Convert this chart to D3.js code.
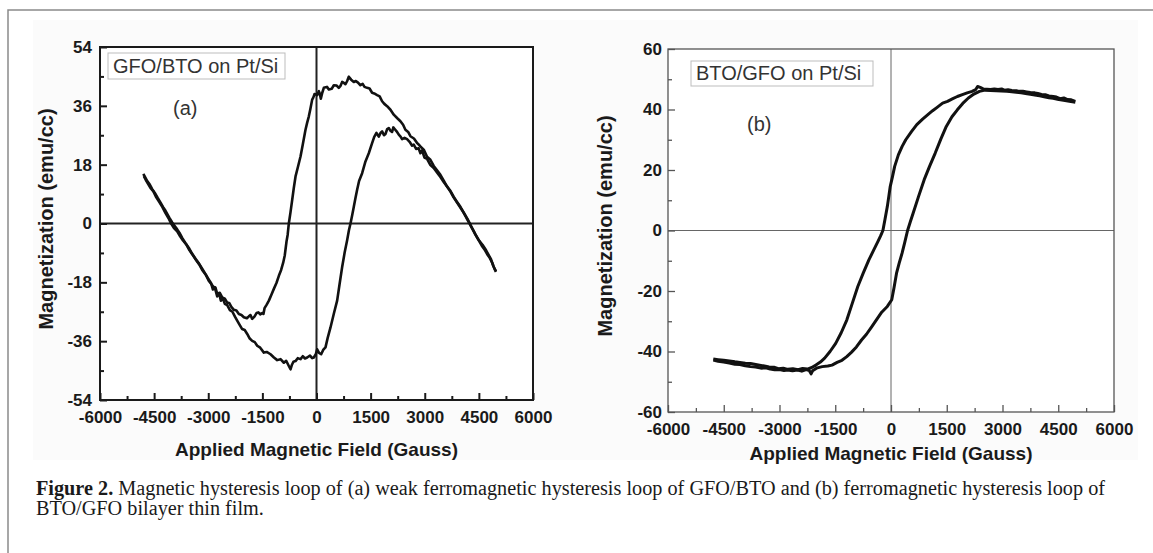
<!DOCTYPE html>
<html>
<head>
<meta charset="utf-8">
<script src="https://cdn.jsdelivr.net/npm/d3@7"></script>
<style>
  body { margin: 0; background: #fff; }
  svg { display: block; }
  .tick text { font-family: "Liberation Sans", Arial, sans-serif; font-weight: bold; font-size: 17px; fill: #1a1a1a; }
</style>
</head>
<body>
<svg id="fig" width="1153" height="553"></svg>
<script>
// ---- data ----
// panel (a) GFO/BTO: branch 1 = field sweeping down, branch 2 = field sweeping up
const aField1 = [4974,4900,4830,4769,4700,4600,4495,4400,4300,4264,4180,4080,3988,3895,3800,3711,3618,3530,3434,3340,3249,3157,3064,2972,2900,2830,2788,2700,2603,2540,2464,2400,2326,2240,2141,2050,1957,1880,1818,1750,1680,1600,1541,1470,1403,1330,1280,1218,1150,1090,1034,960,895,850,803,760,711,660,618,560,480,420,342,290,203,160,120,90,65,20,-55,-90,-120,-170,-212,-260,-305,-380,-443,-510,-581,-630,-674,-720,-767,-800,-831,-880,-923,-980,-1043,-1110,-1182,-1250,-1320,-1380,-1440,-1470,-1505,-1560,-1610,-1662,-1720,-1782,-1830,-1874,-1930,-2013,-2080,-2152,-2220,-2290,-2360,-2420,-2475,-2540,-2614,-2680,-2752,-2800,-2845,-2910,-2983,-3060,-3168,-3260,-3353,-3450,-3537,-3630,-3722,-3800,-3861,-3940,-3999,-4080,-4184,-4250,-4322,-4400,-4461,-4553,-4620,-4692,-4750,-4800];
const aMag1 = [-14.6,-13.0,-10.8,-9.6,-8.2,-6.5,-5.1,-3.3,-1.2,-0.3,1.5,3.3,5.1,6.6,8.2,10.0,11.3,13.0,14.9,16.3,17.6,19.5,20.4,22.6,23.3,24.2,24.6,26.0,26.7,28.0,28.7,30.2,31.3,32.2,33.3,34.8,35.9,36.6,37.4,38.9,39.3,39.8,40.0,41.3,41.5,41.8,42.7,42.3,43.1,43.6,43.3,44.0,44.9,43.6,42.6,43.0,43.3,42.0,41.5,42.2,42.3,41.2,41.0,41.8,41.5,40.0,38.2,39.8,40.5,39.3,39.6,38.5,37.9,35.0,32.8,30.8,28.7,24.2,20.5,17.5,14.4,10.8,7.2,3.5,0,-3.5,-5.5,-9.8,-12.0,-14.2,-16.0,-18.2,-20.0,-21.8,-23.6,-24.8,-25.9,-27.7,-27.4,-27.8,-27.2,-27.4,-28.5,-29.2,-28.0,-28.4,-29.0,-28.7,-28.0,-27.7,-26.6,-26.4,-25.5,-24.3,-24.2,-23.0,-22.6,-21.2,-21.5,-19.6,-19.6,-18.6,-17.6,-15.8,-13.8,-12.2,-10.8,-9.2,-7.5,-6.0,-4.4,-2.8,-1.8,-0.6,0.3,1.8,3.9,5.0,6.4,7.8,9.0,10.5,11.9,13.0,14.2,15.2];
const aField2 = [-4784,-4730,-4660,-4590,-4520,-4440,-4360,-4270,-4184,-4100,-4020,-3950,-3861,-3780,-3700,-3610,-3520,-3420,-3330,-3250,-3168,-3080,-2983,-2920,-2870,-2820,-2752,-2700,-2650,-2600,-2540,-2475,-2400,-2330,-2260,-2198,-2130,-2060,-1990,-1920,-1850,-1782,-1710,-1643,-1560,-1458,-1380,-1274,-1180,-1089,-997,-904,-840,-767,-720,-680,-640,-582,-520,-443,-380,-320,-258,-180,-120,-74,-20,18,70,129,190,249,310,388,480,572,640,711,780,849,900,942,990,1034,1080,1126,1180,1265,1357,1449,1541,1600,1661,1726,1780,1818,1870,1911,1960,2003,2050,2095,2130,2160,2220,2280,2330,2372,2440,2510,2580,2650,2695,2760,2830,2880,2926,2990,3064,3150,3249,3340,3434,3530,3618,3720,3800,3895,3990,4080,4170,4264,4350,4420,4495,4580,4660,4730,4800,4870,4930,4974];
const aMag2 = [14.5,13.3,12.0,10.7,9.8,8.0,6.6,5.0,3.2,1.6,-0.2,-1.4,-2.4,-3.9,-5.2,-6.4,-8.2,-9.8,-11.3,-12.5,-14.2,-15.5,-17.2,-18.3,-20.2,-19.5,-22.3,-21.4,-23.6,-22.8,-24.6,-25.0,-26.5,-27.0,-28.5,-29.7,-31.0,-32.3,-32.6,-33.8,-35.2,-35.9,-36.3,-37.4,-38.0,-39.5,-39.3,-40.0,-41.0,-41.8,-41.5,-42.6,-42.0,-43.6,-44.6,-43.2,-42.3,-42.1,-41.2,-41.5,-40.6,-41.3,-41.0,-40.4,-41.2,-41.0,-40.0,-38.5,-39.6,-40.0,-38.6,-37.9,-35.0,-31.8,-27.6,-23.6,-18.5,-13.3,-8.9,-5.1,-2.0,0,2.6,5.1,7.8,10.3,13.0,15.4,19.0,21.5,24.6,26.5,27.7,26.6,27.8,28.2,27.0,27.4,28.9,29.2,28.4,28.0,29.4,29.0,28.2,27.2,26.6,25.8,26.2,25.8,25.0,23.8,24.1,22.8,23.0,21.5,22.4,20.2,19.8,18.0,17.0,15.6,14.2,12.6,11.3,9.6,8.0,6.4,4.8,3.3,1.4,-0.5,-2.2,-3.6,-5.1,-6.8,-8.0,-9.4,-10.5,-12.0,-13.8,-14.8];

// panel (b) BTO/GFO
const bField1 = [4959,4850,4750,4650,4550,4450,4364,4250,4150,4050,3950,3868,3750,3650,3550,3450,3372,3250,3150,3050,2975,2880,2780,2678,2580,2480,2400,2330,2280,2182,2050,1920,1785,1650,1520,1388,1250,1120,992,850,694,550,397,300,198,99,40,-20,-60,-99,-160,-218,-280,-347,-470,-595,-745,-893,-1040,-1190,-1340,-1488,-1640,-1785,-1900,-2020,-2132,-2250,-2380,-2500,-2640,-2777,-2900,-3030,-3150,-3280,-3372,-3500,-3640,-3780,-3920,-4066,-4200,-4350,-4500,-4650,-4780];
const bMag1 = [42.7,43.2,43.3,43.8,43.6,44.1,44.3,44.5,44.9,45.0,45.3,45.5,45.6,45.8,46.0,46.0,46.2,46.3,46.5,46.4,46.8,46.6,46.8,46.6,46.7,46.8,47.3,47.6,46.6,46.0,45.5,44.9,44.3,43.5,42.7,42.1,40.8,39.6,38.3,36.8,35.0,32.7,30.0,27.8,25.0,21.2,17.8,14.6,11.2,7.9,3.8,0,-1.8,-3.5,-6.6,-9.7,-14.0,-18.5,-24.0,-29.6,-33.8,-37.3,-40.0,-42.2,-43.5,-44.5,-45.3,-45.8,-45.6,-46.0,-45.7,-45.9,-45.5,-45.7,-45.2,-45.1,-44.9,-44.6,-44.3,-44.0,-43.9,-43.6,-43.4,-43.1,-42.9,-42.7,-42.5];
const bField2 = [-4780,-4650,-4500,-4350,-4200,-4066,-3920,-3780,-3640,-3500,-3372,-3250,-3130,-3000,-2880,-2777,-2650,-2520,-2400,-2281,-2200,-2150,-2110,-1983,-1850,-1700,-1587,-1450,-1320,-1190,-1060,-930,-793,-660,-530,-397,-250,-99,20,80,149,220,298,370,446,520,595,740,893,1040,1190,1340,1488,1640,1785,1930,2082,2230,2380,2530,2678,2830,2975,3120,3250,3372,3500,3620,3750,3868,4000,4120,4250,4364,4480,4600,4720,4840,4959];
const bMag2 = [-42.8,-43.2,-43.5,-43.8,-44.2,-44.3,-44.7,-45.0,-45.1,-45.5,-45.4,-45.8,-46.0,-46.0,-46.3,-46.1,-46.4,-46.1,-46.5,-46.0,-46.3,-47.4,-46.4,-45.4,-45.0,-44.8,-44.5,-43.6,-42.9,-41.7,-40.2,-38.5,-36.2,-34.3,-32.0,-29.6,-27.0,-25.1,-22.9,-19.0,-14.1,-10.8,-7.5,-3.9,0,2.9,5.7,11.2,16.8,21.3,25.6,30.2,34.4,37.6,39.9,42.0,43.8,45.1,46.0,46.4,46.3,46.2,46.1,46.0,45.9,45.7,45.5,45.3,45.0,44.8,44.5,44.2,43.9,43.7,43.4,43.1,42.9,42.6,42.4];

const xTicks = [-6000, -4500, -3000, -1500, 0, 1500, 3000, 4500, 6000];
const aYTicks = [-54, -36, -18, 0, 18, 36, 54];
const bYTicks = [-60, -40, -20, 0, 20, 40, 60];

const svg = d3.select("#fig");
const sans = '"Liberation Sans", Arial, sans-serif';
const plainNum = d => String(d); // keep the ASCII hyphen, not d3's minus sign

// outer figure frame (top + left rule) and faint image background
svg.append("rect").attr("x", 33).attr("y", 20).attr("width", 1105).attr("height", 440).attr("fill", "#fbfbfb");
svg.append("path").attr("d", "M8,553V10H1153").attr("fill", "none").attr("stroke", "#8a8a8a").attr("stroke-width", 1.5);

function drawPanel(p) {
    const x = d3.scaleLinear().domain([-6000, 6000]).range([p.left, p.right]);
    const y = d3.scaleLinear().domain(p.yDomain).range([p.bottom, p.top]);
    const g = svg.append("g");

    g.append("rect")
        .attr("x", p.left).attr("y", p.top)
        .attr("width", p.right - p.left).attr("height", p.bottom - p.top)
        .attr("fill", "#fff");

    // zero lines
    g.append("line").attr("x1", x(0)).attr("x2", x(0)).attr("y1", p.top).attr("y2", p.bottom)
        .attr("stroke", p.zeroColor).attr("stroke-width", p.zeroWidth);
    g.append("line").attr("x1", p.left).attr("x2", p.right).attr("y1", y(0)).attr("y2", y(0))
        .attr("stroke", p.zeroColor).attr("stroke-width", p.zeroWidth);

    // minor ticks
    const xMinor = d3.range(-5250, 6000, 1500);
    const step = p.yTicks[1] - p.yTicks[0];
    const yMinor = p.yTicks.slice(0, -1).map(v => v + step / 2);
    g.append("g").attr("transform", `translate(0,${p.bottom})`)
        .call(d3.axisBottom(x).tickValues(xMinor).tickSize(-4).tickFormat(""));
    g.append("g").attr("transform", `translate(${p.left},0)`)
        .call(d3.axisLeft(y).tickValues(yMinor).tickSize(-4).tickFormat(""));

    // major ticks with labels
    g.append("g").attr("transform", `translate(0,${p.bottom})`)
        .call(d3.axisBottom(x).tickValues(xTicks).tickSize(-7).tickPadding(p.xPad).tickFormat(plainNum));
    g.append("g").attr("transform", `translate(${p.left},0)`)
        .call(d3.axisLeft(y).tickValues(p.yTicks).tickSize(-7).tickPadding(p.yPad).tickFormat(plainNum));

    g.selectAll(".domain").remove();
    g.selectAll(".tick line").attr("stroke", p.frameColor).attr("stroke-width", p.tickWidth);

    // frame
    g.append("rect")
        .attr("x", p.left).attr("y", p.top)
        .attr("width", p.right - p.left).attr("height", p.bottom - p.top)
        .attr("fill", "none").attr("stroke", p.frameColor).attr("stroke-width", p.frameWidth);

    // loop branches
    const line = d3.line().x(d => x(d[0])).y(d => y(d[1]));
    p.branches.forEach(b => {
        g.append("path")
            .datum(d3.zip(b[0], b[1]))
            .attr("d", line)
            .attr("fill", "none")
            .attr("stroke", "#111")
            .attr("stroke-width", p.curveWidth)
            .attr("stroke-linejoin", "round");
    });

    // axis titles
    g.append("text")
        .attr("x", x(0)).attr("y", p.xTitleY).attr("dy", "0.35em")
        .attr("text-anchor", "middle")
        .attr("font-family", sans).attr("font-weight", "bold").attr("font-size", 19).attr("fill", "#1a1a1a")
        .text("Applied Magnetic Field (Gauss)");
    g.append("text")
        .attr("transform", `translate(${p.yTitleX},${p.yTitleY}) rotate(-90)`)
        .attr("dy", "0.35em")
        .attr("text-anchor", "middle")
        .attr("font-family", sans).attr("font-weight", "bold").attr("font-size", 20).attr("fill", "#1a1a1a")
        .text("Magnetization (emu/cc)");

    // legend box + panel letter
    g.append("rect")
        .attr("x", p.legend[0]).attr("y", p.legend[1]).attr("width", p.legend[2]).attr("height", p.legend[3])
        .attr("fill", "#fff").attr("stroke", "#bdbdbd").attr("stroke-width", 1);
    g.append("text")
        .attr("x", p.legend[0] + 5).attr("y", p.legend[1] + p.legend[3] - 6)
        .attr("font-family", sans).attr("font-size", 20).attr("fill", "#333")
        .text(p.name);
    g.append("text")
        .attr("x", p.letter[0]).attr("y", p.letter[1])
        .attr("font-family", sans).attr("font-size", 20).attr("fill", "#333")
        .text(p.letterText);
}

drawPanel({
    left: 100, right: 533, top: 47, bottom: 400,
    yDomain: [-54, 54], yTicks: aYTicks, yPad: 8, xPad: 11,
    frameColor: "#1a1a1a", frameWidth: 2, tickWidth: 2,
    zeroColor: "#222", zeroWidth: 2, curveWidth: 2.6,
    branches: [[aField1, aMag1], [aField2, aMag2]],
    xTitleY: 449, yTitleX: 46, yTitleY: 219,
    legend: [108, 53, 177, 26], name: "GFO/BTO on Pt/Si",
    letter: [173, 115], letterText: "(a)"
});

drawPanel({
    left: 668, right: 1114, top: 49, bottom: 412,
    yDomain: [-60, 60], yTicks: bYTicks, yPad: 6, xPad: 11,
    frameColor: "#555", frameWidth: 1.3, tickWidth: 1.3,
    zeroColor: "#666", zeroWidth: 1, curveWidth: 3,
    branches: [[bField1, bMag1], [bField2, bMag2]],
    xTitleY: 453, yTitleX: 605, yTitleY: 226,
    legend: [691, 61, 182, 25], name: "BTO/GFO on Pt/Si",
    letter: [747, 131], letterText: "(b)"
});

// caption
const serif = '"Liberation Serif", "Times New Roman", serif';
const cap1 = svg.append("text").attr("x", 36).attr("y", 495)
    .attr("font-family", serif).attr("font-size", 20).attr("fill", "#1a1a1a");
cap1.append("tspan").attr("font-weight", "bold").text("Figure 2.");
cap1.append("tspan").text(" Magnetic hysteresis loop of (a) weak ferromagnetic hysteresis loop of GFO/BTO and (b) ferromagnetic hysteresis loop of");
const cap2 = svg.append("text").attr("x", 36).attr("y", 515)
    .attr("font-family", serif).attr("font-size", 20).attr("fill", "#1a1a1a")
    .text("BTO/GFO bilayer thin film.");

// squeeze caption to the printed width
const len1 = cap1.node().getComputedTextLength();
const squeeze = 1069 / len1;
cap1.attr("textLength", 1069).attr("lengthAdjust", "spacingAndGlyphs");
cap2.attr("textLength", cap2.node().getComputedTextLength() * squeeze).attr("lengthAdjust", "spacingAndGlyphs");
</script>
</body>
</html>
